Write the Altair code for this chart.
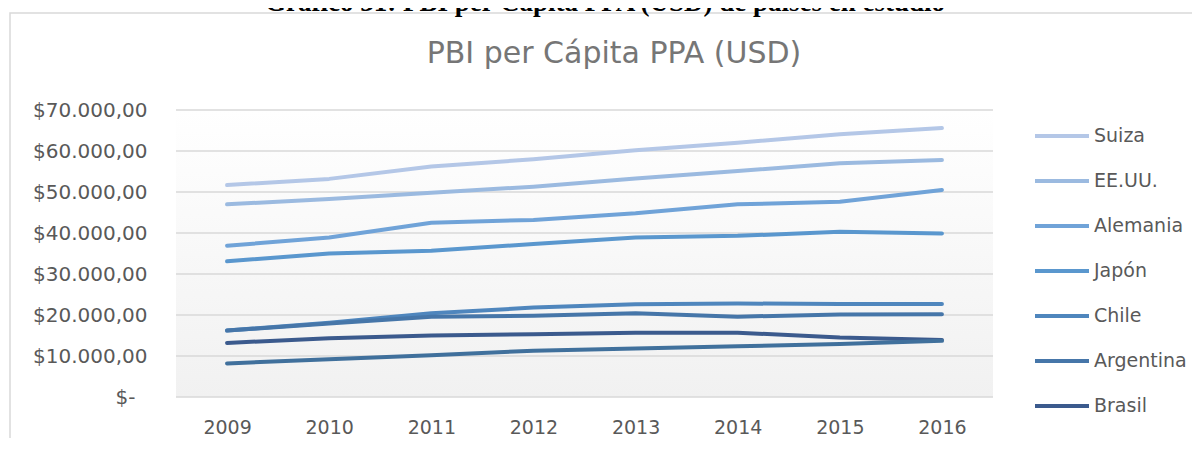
import altair as alt
import pandas as pd

years = ["2009", "2010", "2011", "2012", "2013", "2014", "2015", "2016"]
series_names = ["Suiza", "EE.UU.", "Alemania", "Japón", "Chile", "Argentina", "Brasil", "Perú"]
suiza = [51700, 53200, 56200, 58000, 60200, 62000, 64100, 65600]
eeuu = [47000, 48300, 49800, 51300, 53300, 55100, 57000, 57800]
alemania = [36900, 38900, 42500, 43200, 44800, 47000, 47600, 50500]
japon = [33100, 35000, 35700, 37300, 38900, 39300, 40300, 39900]
chile = [16200, 18100, 20400, 21800, 22600, 22800, 22700, 22700]
argentina = [16200, 17900, 19600, 19800, 20400, 19600, 20100, 20200]
brasil = [13200, 14300, 15000, 15300, 15700, 15700, 14500, 13900]
peru = [8200, 9200, 10200, 11300, 11800, 12400, 12900, 13700]
y_ticks = [0, 10000, 20000, 30000, 40000, 50000, 60000, 70000]
colors = ["#b4c7e7", "#9bbae0", "#70a3d8", "#5a97ce", "#4f86bd", "#4676a9", "#3b5a8d", "#40709c"]
doc_title = ["Gráfico 31: PBI per Cápita PPA (USD) de países en estudio"]
chart_title = ["PBI per Cápita PPA (USD)"]

all_values = [suiza, eeuu, alemania, japon, chile, argentina, brasil, peru]
rows = []
for name, vals in zip(series_names, all_values):
    for yr, v in zip(years, vals):
        rows.append({"Año": yr, "País": name, "PBI": v})
df = pd.DataFrame(rows)
df["orden"] = df["País"].map({n: i for i, n in enumerate(series_names)})

grid_df = pd.DataFrame({"PBI": y_ticks})
one_df = pd.DataFrame({"k": [0]})
doc_title_df = pd.DataFrame({"t": doc_title})
chart_title_df = pd.DataFrame({"t": chart_title})

W, H = 817, 287
TXT = "#595959"
FONT = "DejaVu Sans"

label_expr = ("datum.value == 0 ? '$-' : '$' + replace(replace(replace("
              "format(datum.value, ',.2f'), ',', '#'), '.', ','), '#', '.')")
y_axis = alt.Axis(title=None, grid=False, domain=False, ticks=False, values=y_ticks,
                  labelExpr=label_expr, labelFont=FONT, labelFontSize=20,
                  labelColor=TXT,
                  labelPadding={"condition": {"test": "datum.value === 0", "value": 41}, "value": 29})
x_axis = alt.Axis(title=None, domain=False, ticks=False, labelAngle=0,
                  labelFont=FONT, labelFontSize=19, labelColor=TXT, labelPadding=21)
x_scale = alt.Scale(type="point", padding=0.5, domain=years)
y_scale = alt.Scale(domain=[0, 70000], nice=False)

border = alt.Chart(one_df).mark_rect(fill="transparent", stroke="#d9d9d9", strokeWidth=1.5).encode(
    x=alt.value(-166), x2=alt.value(1100), y=alt.value(-97), y2=alt.value(400))

background = alt.Chart(one_df).mark_rect(
    color=alt.Gradient(gradient="linear",
                       stops=[alt.GradientStop(color="#ffffff", offset=0),
                              alt.GradientStop(color="#f1f1f1", offset=1)],
                       x1=0, x2=0, y1=0, y2=1)
).encode(x=alt.value(0), x2=alt.value(W), y=alt.value(0), y2=alt.value(H))

grid = alt.Chart(grid_df).mark_rule(color="#d9d9d9", strokeWidth=1.3).encode(
    y=alt.Y("PBI:Q", scale=y_scale, axis=y_axis),
    x=alt.value(0), x2=alt.value(W))

lines = alt.Chart(df).mark_line(strokeWidth=4, strokeCap="round", strokeJoin="round").encode(
    x=alt.X("Año:O", scale=x_scale, axis=x_axis),
    y=alt.Y("PBI:Q", scale=y_scale, axis=y_axis),
    color=alt.Color("País:N", scale=alt.Scale(domain=series_names, range=colors),
                    legend=alt.Legend(title=None, orient="none", legendX=857, legendY=-3,
                                      symbolType="stroke", symbolSize=2916, symbolStrokeWidth=4,
                                      labelFont=FONT, labelFontSize=19, labelColor=TXT,
                                      labelOffset=3, rowPadding=6, padding=0)),
    order=alt.Order("orden:Q"),
)

doc_title_mark = alt.Chart(doc_title_df).mark_text(
    font="Liberation Serif", fontSize=27, fontWeight="bold", color="#000000",
    align="center", baseline="alphabetic"
).encode(text="t:N", x=alt.value(429), y=alt.value(-99))

chart_title_mark = alt.Chart(chart_title_df).mark_text(
    font=FONT, fontSize=30, color="#767676", align="center", baseline="alphabetic"
).encode(text="t:N", x=alt.value(438), y=alt.value(-47))

chart = alt.layer(border, background, grid, lines, doc_title_mark, chart_title_mark).properties(
    width=W, height=H,
    autosize=alt.AutoSizeParams(type="none"),
    padding={"left": 168, "top": 102, "right": 199, "bottom": 41},
).configure_view(stroke=None)

chart.save("out.html", embed_options={"renderer": "svg", "actions": False})
